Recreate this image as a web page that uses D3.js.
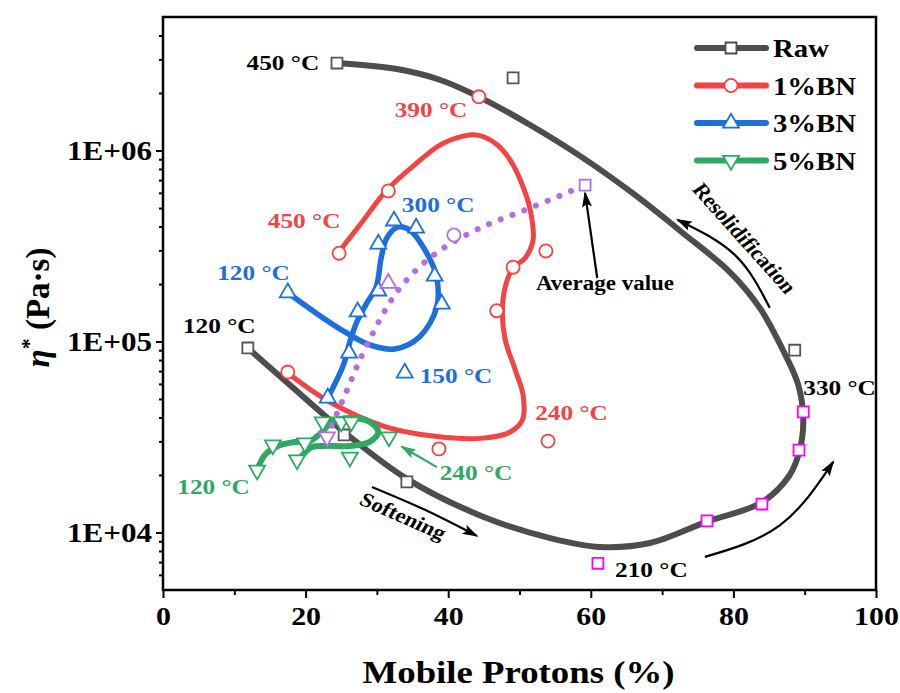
<!DOCTYPE html>
<html><head><meta charset="utf-8">
<script src="https://cdn.jsdelivr.net/npm/d3@7"></script>
<style>
body{margin:0;background:#fff}
svg{display:block}
text{font-family:"Liberation Serif","Times New Roman",serif;font-weight:bold}
</style>
</head><body>
<svg id="chart" width="900" height="693"></svg>
<script>
// ---------------- DATA ----------------
const seriesNames = ["Raw", "1%BN", "3%BN", "5%BN"];
const xTicks = [0, 20, 40, 60, 80, 100];
const xMinorTicks = [10, 30, 50, 70, 90];
const yTicks = [1e4, 1e5, 1e6];
const yTickLabels = ["1E+04", "1E+05", "1E+06"];
const yMinorTicks = [6e3, 7e3, 8e3, 9e3, 2e4, 3e4, 4e4, 5e4, 6e4, 7e4, 8e4, 9e4,
  2e5, 3e5, 4e5, 5e5, 6e5, 7e5, 8e5, 9e5, 2e6, 3e6, 4e6];

// Raw: fitted curve [mobile protons %, viscosity Pa·s]
const rawCurve = [[24.4,2.87e6],[32.8,2.67e6],[38.9,2.34e6],[44.3,1.91e6],[51.5,1.36e6],
  [58.9,9.15e5],[66.2,5.85e5],[72.9,3.70e5],[79.5,2.31e5],[83.7,1.50e5],[86.8,9.25e4],
  [89.1,5.92e4],[89.8,3.88e4],[89.3,2.70e4],[87.9,2.00e4],[84.0,1.44e4],[76.3,1.14e4],
  [68.3,8.81e3],[61.3,8.40e3],[54.3,9.35e3],[44.9,1.21e4],[34.2,1.91e4],[25.4,3.36e4],
  [17.8,5.92e4],[11.9,9.25e4]];
const rawPoints = [[24.4,2.87e6],[49.1,2.40e6],[88.6,9.0e4],[11.9,9.25e4],[25.4,3.24e4],[34.2,1.84e4]];
const rawPointsHighlighted = [[89.8,4.28e4],[89.2,2.70e4],[84.0,1.41e4],[76.3,1.15e4],[61.0,6.9e3]];

// 1%BN
const bn1Curve = [[24.5,2.90e5],[27.6,4.07e5],[31.4,6.21e5],[35.6,8.61e5],[38.9,1.07e6],
  [42.1,1.19e6],[44.3,1.20e6],[46.6,1.09e6],[48.7,8.91e5],[50.4,6.60e5],[51.5,4.89e5],
  [51.9,3.40e5],[50.8,2.74e5],[49.1,2.43e5],[48.0,1.93e5],[47.6,1.41e5],[48.0,1.02e5],
  [49.4,7.10e4],[50.5,5.25e4],[50.4,3.88e4],[48.7,3.36e4],[44.9,3.12e4],[37.9,3.20e4],
  [30.9,3.61e4],[23.4,4.82e4],[17.5,6.84e4]];
const bn1Points = [[44.3,1.91e6],[31.6,6.14e5],[24.7,2.90e5],[53.7,2.98e5],[49.1,2.45e5],
  [46.8,1.45e5],[54.0,3.01e4],[38.7,2.74e4],[17.5,6.92e4]];

// 3%BN
const bn3Curve = [[17.5,1.80e5],[24.4,1.19e5],[29.0,9.59e4],[32.5,9.14e4],[36.0,1.06e5],
  [38.4,1.52e5],[38.3,2.23e5],[36.5,3.12e5],[34.6,3.84e5],[33.0,3.98e5],[31.4,3.49e5],
  [30.6,2.74e5],[29.9,1.93e5],[28.5,1.57e5],[27.2,1.27e5],[26.2,9.93e4],[25.3,7.53e4],
  [23.1,5.06e4]];
const bn3Points = [[17.5,1.80e5],[32.4,4.28e5],[35.5,3.93e5],[30.2,3.24e5],[38.1,2.20e5],
  [39.1,1.57e5],[30.2,1.84e5],[27.3,1.43e5],[26.1,8.71e4],[23.1,5.06e4],[33.9,6.84e4]];

// 5%BN
const bn5Curve = [[13.2,2.12e4],[14.3,2.55e4],[16.1,2.84e4],[18.5,2.98e4],[20.6,3.01e4],
  [22.3,3.36e4],[23.7,3.79e4],[26.2,3.98e4],[29.0,3.79e4],[30.2,3.36e4],[29.0,2.98e4],
  [26.2,2.84e4],[22.7,2.84e4],[20.9,2.80e4],[19.6,2.55e4],[18.8,2.34e4]];
const bn5Points = [[13.2,2.12e4],[15.4,2.87e4],[18.8,2.40e4],[19.9,2.94e4],[22.4,3.79e4],
  [25.0,3.79e4],[26.4,3.79e4],[26.2,2.48e4],[31.7,3.16e4]];

// Average value trend
const avgCurve = [[23.0,3.16e4],[25.7,5.45e4],[28.6,9.59e4],[33.1,1.88e5],[38.3,2.90e5],
  [44.5,3.93e5],[51.5,5.00e5],[59.2,6.59e5]];
const avgPoints = [[23.0,3.16e4],[31.6,2.02e5],[40.8,3.61e5],[59.2,6.59e5]];
const avgPointSeries = ["5%BN", "3%BN", "1%BN", "Raw"];

// Annotations [text, x, viscosity, series colour key, anchor]
const tempLabels = [
  ["450 °C", 21.9, 2.64e6, "Raw", "end"],
  ["390 °C", 32.5, 1.50e6, "1%BN", "start"],
  ["450 °C", 14.7, 3.93e5, "1%BN", "start"],
  ["300 °C", 33.5, 4.76e5, "3%BN", "start"],
  ["120 °C", 7.6, 2.10e5, "3%BN", "start"],
  ["120 °C", 2.8, 1.11e5, "Raw", "start"],
  ["150 °C", 36.0, 6.07e4, "3%BN", "start"],
  ["240 °C", 52.2, 3.88e4, "1%BN", "start"],
  ["240 °C", 38.8, 1.88e4, "5%BN", "start"],
  ["120 °C", 2.0, 1.59e4, "5%BN", "start"],
  ["330 °C", 89.8, 5.25e4, "Raw", "start"],
  ["210 °C", 63.4, 5.85e3, "Raw", "start"]
];
const noteLabels = [
  ["Average value", 52.3, 1.86e5, 0],
  ["Softening", 33.7, 1.22e4, 27],
  ["Resolidification", 81.6, 3.48e5, 52]
];
const arrowSoftening = [[29.3,1.73e4],[36.8,1.31e4],[44.0,9.6e3]];
const arrowResolid = [[85.1,1.50e5],[80.2,2.84e5],[72.2,4.33e5]];
const arrowAverage = [[60.9,2.15e5],[59.2,5.98e5]];
const arrowGreen = [[38.4,2.20e4],[33.5,2.81e4]];
const arrowHeating = [[76.0,7.45e3],[86.5,1.09e4],[94.0,2.34e4]];

// ---------------- STYLE ----------------
const colors = {"Raw":"#4d4d4d","1%BN":"#f24444","3%BN":"#1e6fdc","5%BN":"#2fa862"};
const avgColor = "#b36ee0", hiColor = "#ff00ff";
const SX = 1.15; // horizontal text stretch

// ---------------- CHART ----------------
const svg = d3.select("#chart");
const L = 163, R = 876, T = 17, B = 590;
const x = d3.scaleLinear().domain([0, 100]).range([L, R]);
const y = d3.scaleLog().domain([5000, 5e6]).range([B, T]);

const defs = svg.append("defs");
function arrowMarker(id, color) {
  defs.append("marker").attr("id", id).attr("markerUnits", "userSpaceOnUse")
    .attr("viewBox", "0 0 16 10").attr("markerWidth", 16).attr("markerHeight", 10)
    .attr("refX", 14).attr("refY", 5).attr("orient", "auto")
    .append("path").attr("d", "M0,0L16,5L0,10L3,5Z").attr("fill", color);
}
arrowMarker("ahBlack", "#000");
arrowMarker("ahGreen", colors["5%BN"]);

// axes
const xAxis = svg.append("g").attr("transform", `translate(0,${B})`)
  .call(d3.axisBottom(x).tickValues(xTicks).tickSize(8).tickPadding(6).tickFormat(d3.format("d")));
svg.append("g").attr("transform", `translate(0,${B})`)
  .call(d3.axisBottom(x).tickValues(xMinorTicks).tickSize(5).tickFormat(""));
const yAxis = svg.append("g").attr("transform", `translate(${L},0)`)
  .call(d3.axisLeft(y).tickValues(yTicks).tickSize(7).tickFormat((d, i) => yTickLabels[i]));
svg.append("g").attr("transform", `translate(${L},0)`)
  .call(d3.axisLeft(y).tickValues(yMinorTicks).tickSize(4).tickFormat(""));
svg.selectAll(".domain").remove();
svg.selectAll(".tick line").attr("stroke", "#000").attr("stroke-width", 2);
xAxis.selectAll("text").attr("font-size", 26).attr("fill", "#000")
  .attr("transform", `scale(${SX},1)`).attr("dy", "0.82em");
yAxis.selectAll("text").attr("font-size", 27).attr("fill", "#000")
  .attr("x", null).attr("dy", "0.34em").attr("text-anchor", "end")
  .attr("transform", `translate(-11,0) scale(${SX},1)`);

// frame
svg.append("rect").attr("x", L).attr("y", T).attr("width", R - L).attr("height", B - T)
  .attr("fill", "none").attr("stroke", "#000").attr("stroke-width", 2.5);

// axis titles
svg.append("text").attr("transform", `translate(${(L + R) / 2 - 1},683) scale(${SX},1)`)
  .attr("text-anchor", "middle").attr("font-size", 32).text("Mobile Protons (%)");
const yt = svg.append("text").attr("transform", `translate(49,${(T + B) / 2 + 4}) rotate(-90)`)
  .attr("text-anchor", "middle").attr("font-size", 33);
yt.append("tspan").attr("font-style", "italic").text("η");
yt.append("tspan").attr("font-size", 22).attr("dy", -13).text("*");
yt.append("tspan").attr("dy", 13).text(" (Pa·s)");

// curves
const line = d3.line().x(d => x(d[0])).y(d => y(d[1])).curve(d3.curveCatmullRom.alpha(0.5));
const curves = [[rawCurve, "Raw", 6], [bn1Curve, "1%BN", 5], [bn3Curve, "3%BN", 5.5], [bn5Curve, "5%BN", 6]];
curves.forEach(([data, key, w]) => {
  svg.append("path").datum(data).attr("d", line).attr("fill", "none")
    .attr("stroke", colors[key]).attr("stroke-width", w)
    .attr("stroke-linecap", "round").attr("stroke-linejoin", "round");
});
svg.append("path").datum(avgCurve).attr("d", line).attr("fill", "none")
  .attr("stroke", avgColor).attr("stroke-width", 6).attr("stroke-linecap", "round")
  .attr("stroke-dasharray", "0.1 12.5");

// markers
const symSize = {"Raw": 120, "1%BN": 135, "3%BN": 110, "5%BN": 110};
function symbolFor(key) {
  if (key === "Raw") return d3.symbol(d3.symbolSquare, symSize.Raw)();
  if (key === "1%BN") return d3.symbol(d3.symbolCircle, symSize["1%BN"])();
  return d3.symbol(d3.symbolTriangle, symSize[key])();
}
function drawPoints(data, key, stroke) {
  svg.append("g").selectAll("path").data(data).join("path")
    .attr("d", symbolFor(key))
    .attr("transform", d => `translate(${x(d[0])},${y(d[1])})` + (key === "5%BN" ? " rotate(180)" : ""))
    .attr("fill", "#fff").attr("stroke", stroke).attr("stroke-width", 1.8);
}
drawPoints(rawPoints, "Raw", "#555");
drawPoints(rawPointsHighlighted, "Raw", hiColor);
drawPoints(bn1Points, "1%BN", colors["1%BN"]);
drawPoints(bn3Points, "3%BN", colors["3%BN"]);
drawPoints(bn5Points, "5%BN", colors["5%BN"]);
avgPoints.forEach((p, i) => drawPoints([p], avgPointSeries[i], avgColor));

// arrows
const arrowLine = d3.line().x(d => x(d[0])).y(d => y(d[1])).curve(d3.curveNatural);
[[arrowSoftening, "#000", "ahBlack"], [arrowResolid, "#000", "ahBlack"], [arrowAverage, "#000", "ahBlack"],
 [arrowHeating, "#000", "ahBlack"], [arrowGreen, colors["5%BN"], "ahGreen"]].forEach(([d, c, m]) => {
  svg.append("path").datum(d).attr("d", arrowLine).attr("fill", "none")
    .attr("stroke", c).attr("stroke-width", 2.2).attr("marker-end", `url(#${m})`);
});

// labels
tempLabels.forEach(([t, xv, v, key, anchor]) => {
  svg.append("text").attr("transform", `translate(${x(xv)},${y(v)}) scale(${SX},1)`)
    .attr("text-anchor", anchor).attr("font-size", 22)
    .attr("fill", key === "Raw" ? "#000" : colors[key]).text(t);
});
noteLabels.forEach(([t, xv, v, rot]) => {
  svg.append("text").attr("transform", `translate(${x(xv)},${y(v)}) scale(${SX},1) rotate(${rot})`)
    .attr("text-anchor", rot ? "middle" : "start").attr("dy", rot ? "0.35em" : 0)
    .attr("font-size", 20).attr("fill", "#000").text(t);
});

// legend
const lg = svg.append("g");
seriesNames.forEach((name, i) => {
  const ly = 48 + i * 37.5;
  lg.append("line").attr("x1", 697).attr("x2", 766).attr("y1", ly).attr("y2", ly)
    .attr("stroke", colors[name]).attr("stroke-width", 6).attr("stroke-linecap", "round");
  lg.append("path").attr("d", symbolFor(name))
    .attr("transform", `translate(731,${ly})` + (name === "5%BN" ? " rotate(180)" : ""))
    .attr("fill", "#fff").attr("stroke", colors[name]).attr("stroke-width", 1.8);
  lg.append("text").attr("transform", `translate(773,${ly + 9}) scale(${SX},1)`)
    .attr("font-size", 25).attr("fill", "#000").text(name);
});
</script>
</body></html>
